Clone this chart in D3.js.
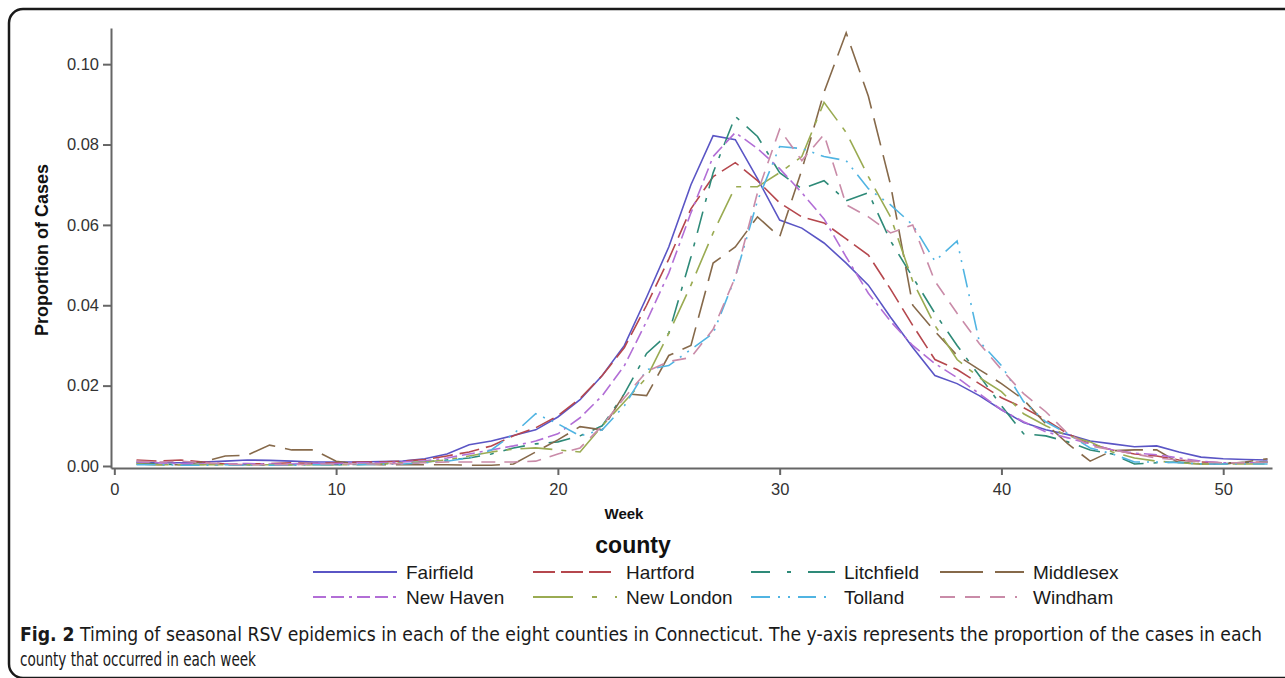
<!DOCTYPE html>
<html>
<head>
<meta charset="utf-8">
<script src="https://cdn.jsdelivr.net/npm/d3@7/dist/d3.min.js"></script>
<style>
  body { margin: 0; background: #fff; }
  svg { display: block; font-family: "Liberation Sans", Arial, sans-serif; }
</style>
</head>
<body>
<div id="grafico"></div>
<script>
// Datos: proporción semanal de casos por condado (semanas 1-52)
const weeks = d3.range(1, 53);
const xTicks = [0, 10, 20, 30, 40, 50];
const yTicks = [0, 0.02, 0.04, 0.06, 0.08, 0.10];

const counties = ["Fairfield", "Hartford", "Litchfield", "Middlesex",
                  "New Haven", "New London", "Tolland", "Windham"];

const fairfield = [.0010, .0008, .0008, .0010, .0012, .0015, .0014, .0012, .0010, .0010,
  .0010, .0011, .0012, .0018, .0030, .0053, .0062, .0076, .0090, .0122,
  .0165, .0225, .0300, .0420, .0545, .0700, .0822, .0812, .0715, .0612,
  .0592, .0555, .0505, .0450, .0370, .0295, .0225, .0205, .0175, .0140,
  .0108, .0090, .0078, .0062, .0055, .0048, .0050, .0035, .0022, .0018,
  .0016, .0015];
const hartford = [.0015, .0012, .0015, .0010, .0005, .0005, .0006, .0008, .0006, .0008,
  .0010, .0010, .0012, .0016, .0025, .0035, .0050, .0075, .0095, .0125,
  .0168, .0225, .0295, .0400, .0515, .0640, .0720, .0755, .0710, .0655,
  .0620, .0605, .0565, .0525, .0440, .0350, .0265, .0240, .0205, .0170,
  .0145, .0115, .0080, .0055, .0040, .0030, .0025, .0015, .0010, .0008,
  .0008, .0010];
const litchfield = [.0008, .0005, .0003, .0004, .0003, .0003, .0002, .0003, .0004, .0003,
  .0004, .0005, .0008, .0010, .0015, .0020, .0030, .0045, .0055, .0060,
  .0075, .0100, .0180, .0280, .0330, .0520, .0730, .0870, .0820, .0730,
  .0690, .0710, .0660, .0680, .0560, .0470, .0380, .0300, .0225, .0150,
  .0080, .0075, .0060, .0040, .0030, .0005, .0008, .0010, .0005, .0005,
  .0010, .0010];
const middlesex = [.0005, .0003, .0003, .0010, .0025, .0027, .0052, .0040, .0040, .0012,
  .0005, .0003, .0003, .0003, .0003, .0002, .0002, .0005, .0035, .0065,
  .0098, .0090, .0180, .0175, .0275, .0300, .0505, .0545, .0620, .0570,
  .0737, .0930, .1078, .0920, .0700, .0400, .0335, .0275, .0240, .0205,
  .0165, .0105, .0055, .0012, .0038, .0040, .0040, .0008, .0005, .0005,
  .0010, .0018];
const newHaven = [.0010, .0008, .0006, .0005, .0005, .0006, .0005, .0005, .0006, .0006,
  .0008, .0008, .0010, .0013, .0020, .0030, .0040, .0050, .0062, .0080,
  .0120, .0175, .0250, .0360, .0480, .0630, .0770, .0830, .0790, .0740,
  .0680, .0615, .0520, .0430, .0360, .0300, .0255, .0220, .0180, .0140,
  .0110, .0085, .0070, .0055, .0040, .0032, .0028, .0020, .0012, .0008,
  .0008, .0008];
const newLondon = [.0005, .0003, .0003, .0003, .0003, .0003, .0003, .0003, .0003, .0003,
  .0003, .0005, .0008, .0010, .0015, .0025, .0035, .0042, .0045, .0040,
  .0035, .0100, .0160, .0220, .0330, .0450, .0580, .0695, .0695, .0730,
  .0770, .0905, .0830, .0720, .0620, .0460, .0350, .0265, .0220, .0185,
  .0130, .0100, .0075, .0060, .0035, .0020, .0012, .0008, .0005, .0005,
  .0005, .0005];
const tolland = [.0003, .0003, .0002, .0002, .0003, .0002, .0002, .0002, .0003, .0003,
  .0003, .0004, .0005, .0008, .0012, .0020, .0040, .0080, .0130, .0105,
  .0075, .0090, .0150, .0240, .0250, .0290, .0330, .0470, .0660, .0795,
  .0790, .0770, .0760, .0690, .0650, .0600, .0510, .0560, .0310, .0250,
  .0160, .0110, .0080, .0045, .0030, .0010, .0010, .0008, .0005, .0005,
  .0005, .0005];
const windham = [.0012, .0010, .0012, .0008, .0005, .0003, .0003, .0003, .0005, .0005,
  .0005, .0005, .0006, .0008, .0010, .0010, .0010, .0010, .0012, .0030,
  .0045, .0100, .0170, .0235, .0260, .0270, .0340, .0470, .0680, .0838,
  .0760, .0825, .0650, .0620, .0580, .0600, .0460, .0380, .0305, .0240,
  .0180, .0135, .0080, .0050, .0040, .0030, .0020, .0015, .0010, .0008,
  .0008, .0010];

const values = [fairfield, hartford, litchfield, middlesex, newHaven, newLondon, tolland, windham];

const colors = ["#5a55c5", "#b5474d", "#2e8a78", "#86694a",
                "#b26ed6", "#9aab52", "#50b4e2", "#c98ba8"];
const dashes = ["none", "20,7", "22,10,4,10", "28,10",
                "13,5,13,5,3,5", "32,9,5,9", "19,7,2,7,2,7", "14,9"];
// en la leyenda el patrón se ve un poco distinto
const legendDashes = ["none", "22,6,22,6,22,6,2,20", "19,17,4,17,27,20", "43,12,30,20",
                      "13,5,13,5,3,5,13,5,13,5,3,20", "40,19,5,18,2,20",
                      "19,8,2,8,2,8,18,8,2,20", "15,10,15,10,15,10,2,20"];

const series = counties.map((name, i) => ({
    name: name,
    color: colors[i],
    dash: dashes[i],
    legendDash: legendDashes[i],
    points: weeks.map((w, j) => ({ week: w, value: values[i][j] }))
}));

// SVG
const W = 1285, H = 678;
const svg = d3.select("#grafico")
    .append("svg")
    .attr("width", W)
    .attr("height", H);

// Marco redondeado
svg.append("rect")
    .attr("x", 9).attr("y", 9)
    .attr("width", 1300).attr("height", 669)
    .attr("rx", 14)
    .attr("fill", "none")
    .attr("stroke", "#1a1a1a")
    .attr("stroke-width", 2.5);

// Escalas
const x = d3.scaleLinear()
    .domain([-0.15, 52.2])
    .range([111, 1272]);

const y = d3.scaleLinear()
    .domain([-0.0005, 0.1090])
    .range([468, 28]);

// Ejes
const axisColor = "#666";

const gx = svg.append("g")
    .attr("transform", `translate(0, ${y(-0.0005)})`)
    .call(d3.axisBottom(x).tickValues(xTicks).tickSize(7).tickSizeOuter(0).tickPadding(8));

const gy = svg.append("g")
    .attr("transform", `translate(${x(-0.15)}, 0)`)
    .call(d3.axisLeft(y).tickValues(yTicks).tickFormat(d3.format(".2f")).tickSize(8).tickSizeOuter(0).tickPadding(4));

[gx, gy].forEach(g => {
    g.select(".domain").attr("stroke", axisColor).attr("stroke-width", 2);
    g.selectAll(".tick line").attr("stroke", axisColor).attr("stroke-width", 2);
    g.selectAll(".tick text")
        .attr("fill", "#333")
        .style("font-size", "16.5px")
        .style("font-family", "'Liberation Sans', Arial, sans-serif");
});

// Líneas
const line = d3.line()
    .x(d => x(d.week))
    .y(d => y(d.value));

svg.append("g")
    .selectAll("path")
    .data(series)
    .enter()
    .append("path")
    .attr("d", d => line(d.points))
    .attr("fill", "none")
    .attr("stroke", d => d.color)
    .attr("stroke-width", 1.6)
    .attr("stroke-dasharray", d => d.dash);

// Títulos de ejes
svg.append("text")
    .attr("transform", "translate(48, 250) rotate(-90)")
    .attr("text-anchor", "middle")
    .style("font-size", "18px")
    .style("font-weight", "bold")
    .attr("fill", "#111")
    .text("Proportion of Cases");

svg.append("text")
    .attr("x", 624).attr("y", 519)
    .attr("text-anchor", "middle")
    .style("font-size", "15px")
    .style("font-weight", "bold")
    .attr("fill", "#111")
    .text("Week");

svg.append("text")
    .attr("x", 633).attr("y", 553)
    .attr("text-anchor", "middle")
    .style("font-size", "23px")
    .style("font-weight", "bold")
    .attr("fill", "#111")
    .text("county");

// Leyenda
const colX = [313, 533, 751, 940];
const rowY = [572, 597];

const legend = svg.append("g");
series.forEach((s, i) => {
    const lx = colX[i % 4];
    const ly = rowY[Math.floor(i / 4)];
    legend.append("line")
        .attr("x1", lx).attr("x2", lx + 84)
        .attr("y1", ly).attr("y2", ly)
        .attr("stroke", s.color)
        .attr("stroke-width", 2)
        .attr("stroke-dasharray", s.legendDash);
    legend.append("text")
        .attr("x", lx + 93).attr("y", ly)
        .attr("dy", "0.35em")
        .style("font-size", "19px")
        .attr("fill", "#1a1a1a")
        .text(s.name);
});

// Pie de figura
const capFont = "'Liberation Sans Narrow', 'DejaVu Sans Condensed', Arial, sans-serif";
const caption = svg.append("text")
    .attr("x", 20).attr("y", 641)
    .attr("textLength", 1242)
    .attr("lengthAdjust", "spacingAndGlyphs")
    .style("font-family", capFont)
    .style("font-size", "19px")
    .attr("fill", "#1a1a1a");
caption.append("tspan").style("font-weight", "bold").text("Fig. 2");
caption.append("tspan").text(" Timing of seasonal RSV epidemics in each of the eight counties in Connecticut. The y-axis represents the proportion of the cases in each");

svg.append("text")
    .attr("x", 20).attr("y", 666)
    .attr("textLength", 236)
    .attr("lengthAdjust", "spacingAndGlyphs")
    .style("font-family", capFont)
    .style("font-size", "19px")
    .attr("fill", "#1a1a1a")
    .text("county that occurred in each week");
</script>
</body>
</html>
